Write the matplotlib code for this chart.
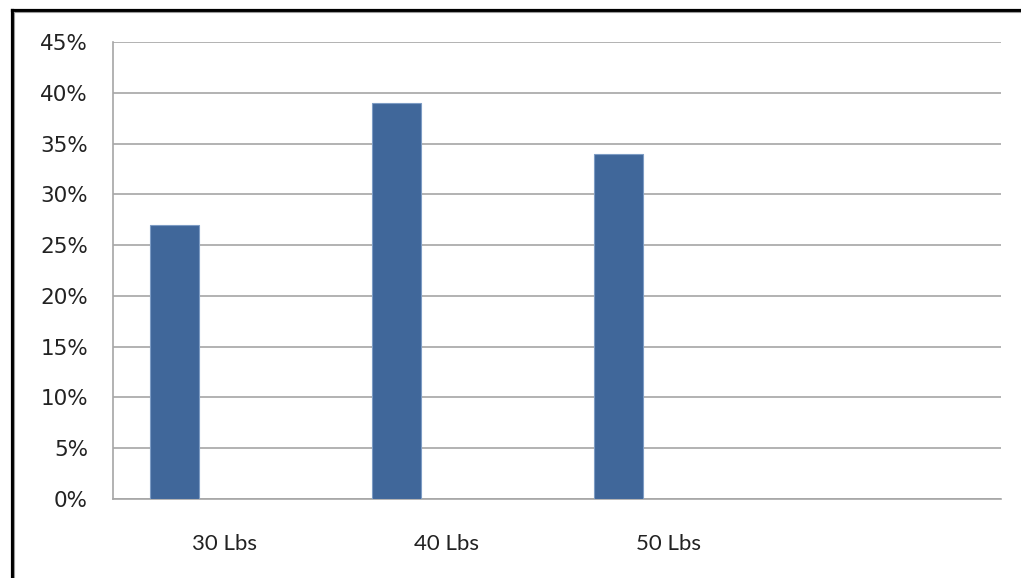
import numpy as np
import matplotlib
matplotlib.use("Agg")
import matplotlib.pyplot as plt
from matplotlib.lines import Line2D
from matplotlib.ticker import FuncFormatter

categories = ["30 Lbs", "40 Lbs", "50 Lbs", ""]
share_pct = [27, 39, 34, np.nan]
y_ticks = [0, 5, 10, 15, 20, 25, 30, 35, 40, 45]

W, H = 1021, 578
fig = plt.figure(figsize=(W / 100, H / 100), dpi=100)
ax = fig.add_axes([113 / W, 1 - 499 / H, (1001 - 113) / W, (499 - 42) / H])

# three series per slot with a 150% gap; only the first series has data
n_series, gap = 3, 1.5
width = 1 / (n_series + gap)
x = np.arange(len(categories))
ax.bar(x - width, share_pct, width=width, color="#40679a",
       edgecolor="#7d9cc4", linewidth=0.8, zorder=3)

ax.set_xlim(-0.5, len(categories) - 0.5)
ax.set_ylim(0, 45)
ax.set_yticks(y_ticks)
ax.yaxis.set_major_formatter(FuncFormatter(lambda v, p: f"{v:.0f}%"))
ax.set_xticks(x)
ax.set_xticklabels(categories, fontsize=16, family="Lato", color="#222222")
ax.tick_params(axis="x", length=0, pad=25)
ax.tick_params(axis="y", length=0, pad=18, labelsize=15.5, labelcolor="#222222")

ax.grid(axis="y", color="#a6a6a6", linewidth=1.2, zorder=0)
for side in ["top", "right"]:
    ax.spines[side].set_visible(False)
for side in ["left", "bottom"]:
    ax.spines[side].set_color("#a6a6a6")
    ax.spines[side].set_linewidth(1.2)

# black frame along the top and left edges
def px(xp, yp):
    return xp / W, 1 - yp / H

for (x0, y0), (x1, y1), c, lw in [
    ((11.5, 9.5), (W, 9.5), "black", 2.3),
    ((11.5, 9.5), (11.5, H), "black", 2.3),
    ((13.5, 11.5), (W, 11.5), "#9a9a9a", 0.8),
    ((13.5, 11.5), (13.5, H), "#9a9a9a", 0.8),
]:
    a, b = px(x0, y0)
    c2, d = px(x1, y1)
    fig.add_artist(Line2D([a, c2], [b, d], color=c, linewidth=lw,
                          transform=fig.transFigure))

fig.savefig("out.png", dpi=100, facecolor="white")
